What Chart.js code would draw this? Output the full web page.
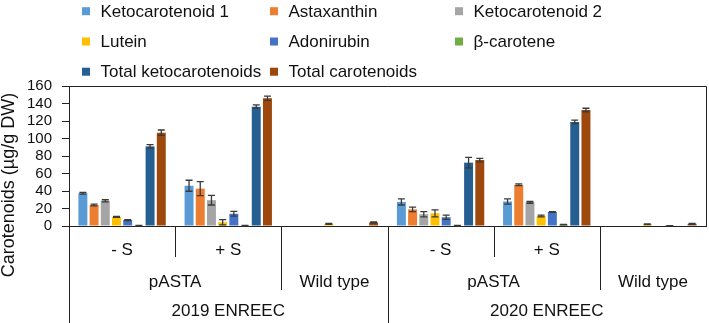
<!DOCTYPE html>
<html><head><meta charset="utf-8">
<script src="https://cdn.jsdelivr.net/npm/chart.js@4.4.1/dist/chart.umd.min.js"></script>
<style>html,body{margin:0;padding:0;background:#fff}#wrap{width:709px;height:323px;position:relative}</style>
</head><body><div id="wrap"><canvas id="c"></canvas></div>
<script>
// ---- data ----
const treatments = ['- S', '+ S', '', '- S', '+ S', ''];
const genotypes = ['pASTA', 'pASTA', 'Wild type', 'pASTA', 'pASTA', 'Wild type'];
const years = ['2019 ENREEC', '2019 ENREEC', '2019 ENREEC', '2020 ENREEC', '2020 ENREEC', '2020 ENREEC'];
const seriesNames = ['Ketocarotenoid 1', 'Astaxanthin', 'Ketocarotenoid 2', 'Lutein', 'Adonirubin', 'β-carotene', 'Total ketocarotenoids', 'Total carotenoids'];
const keto1 = [37.5, 46, 0, 27.5, 28, 0];
const keto1Err = [1, 6.3, 0, 3.5, 3, 0];
const astaxanthin = [24, 42.7, 0, 19, 47.2, 0];
const astaxanthinErr = [1, 8, 0, 2.5, 1, 0];
const keto2 = [28.8, 29.5, 0, 13.5, 27, 0];
const keto2Err = [1.2, 5.5, 0, 3, 1, 0];
const lutein = [10.5, 4.3, 2.5, 14.5, 11.4, 2];
const luteinErr = [0.6, 3, 0.5, 4, 1, 0.5];
const adonirubin = [6.8, 14, 0, 10, 16, 0];
const adonirubinErr = [0.6, 2.8, 0, 2.5, 0.5, 0];
const betaCarotene = [0.5, 0.5, 0, 0.5, 1.5, 0.2];
const betaCaroteneErr = [0.2, 0.2, 0, 0.2, 0.3, 0.1];
const totalKeto = [91, 136.4, 0, 72.4, 118.9, 0];
const totalKetoErr = [2, 2, 0, 6, 2, 0];
const totalCarot = [106.7, 146, 4, 75.4, 132.6, 2.5];
const totalCarotErr = [3, 2.5, 0.6, 2, 2, 0.5];
const yTicks = [0, 20, 40, 60, 80, 100, 120, 140, 160];

// ---- styles ----
const colors = ['#5B9BD5', '#ED7D31', '#A5A5A5', '#FFC000', '#4472C4', '#70AD47', '#255E91', '#9E480E'];
const FONT = '"Liberation Sans", Arial, sans-serif';
const TXT = '#111';
const LINE = '#222';

const values = [keto1, astaxanthin, keto2, lutein, adonirubin, betaCarotene, totalKeto, totalCarot];
const errors = [keto1Err, astaxanthinErr, keto2Err, luteinErr, adonirubinErr, betaCaroteneErr, totalKetoErr, totalCarotErr];
const labels = treatments.map((t, i) => [t, genotypes[i], years[i]]);

const datasets = seriesNames.map((n, i) => ({
  label: n,
  data: values[i],
  errors: errors[i],
  backgroundColor: colors[i],
  borderWidth: 0,
  barPercentage: 0.8,
  categoryPercentage: 0.844
}));

const errorBars = {
  id: 'errorBars',
  afterDatasetsDraw(chart) {
    const ctx = chart.ctx, ys = chart.scales.y;
    ctx.save();
    ctx.strokeStyle = '#3a3a3a';
    ctx.lineWidth = 1.3;
    chart.data.datasets.forEach((ds, i) => {
      const meta = chart.getDatasetMeta(i);
      meta.data.forEach((el, j) => {
        const v = ds.data[j], e = ds.errors[j];
        if (!e) return;
        const x = el.x;
        const y1 = ys.getPixelForValue(v + e), y2 = ys.getPixelForValue(Math.max(0, v - e));
        const hw = 3.5;
        ctx.beginPath();
        ctx.moveTo(x, y1); ctx.lineTo(x, y2);
        ctx.moveTo(x - hw, y1); ctx.lineTo(x + hw, y1);
        ctx.moveTo(x - hw, y2); ctx.lineTo(x + hw, y2);
        ctx.stroke();
      });
    });
    ctx.restore();
  }
};

const decorations = {
  id: 'decorations',
  afterDraw(chart) {
    const ctx = chart.ctx, ca = chart.chartArea, xs = chart.scales.x;
    const H = chart.height;
    ctx.save();
    // frame top & right
    ctx.strokeStyle = LINE; ctx.lineWidth = 1;
    ctx.beginPath();
    ctx.moveTo(Math.round(ca.left) , Math.round(ca.top) + 0.5);
    ctx.lineTo(Math.round(ca.right) + 0.5, Math.round(ca.top) + 0.5);
    ctx.lineTo(Math.round(ca.right) + 0.5, Math.round(ca.bottom));
    ctx.stroke();

    // multi-level category axis
    const n = treatments.length;
    const step = (ca.right - ca.left) / n;
    const edge = k => k === 0 ? ca.left : (xs.getPixelForValue(k - 1) + xs.getPixelForValue(k)) / 2;
    const rowBottom = [ca.bottom + 31, ca.bottom + 64, H];
    ctx.beginPath();
    for (let k = 0; k < n; k++) {
      let depth;
      if (k === 0 || years[k] !== years[k - 1]) depth = 2;
      else if (genotypes[k] !== genotypes[k - 1]) depth = 1;
      else depth = 0;
      const x = Math.round(edge(k)) + 0.5;
      ctx.moveTo(x, ca.bottom); ctx.lineTo(x, rowBottom[depth]);
    }
    ctx.stroke();

    ctx.fillStyle = TXT;
    ctx.textAlign = 'center';
    ctx.textBaseline = 'alphabetic';
    ctx.font = '17px ' + FONT;
    const rows = [treatments, genotypes, years];
    const baselines = [ca.bottom + 28.5, ca.bottom + 60.5, ca.bottom + 90];
    rows.forEach((arr, r) => {
      let s = 0;
      for (let k = 1; k <= n; k++) {
        const brk = k === n || arr[k] !== arr[s] ||
          (r < 2 && years[k] !== years[s]) || (r < 1 && genotypes[k] !== genotypes[s]);
        if (brk) {
          if (arr[s]) {
            const x0 = xs.getPixelForValue(s) - step / 2, x1 = xs.getPixelForValue(k - 1) + step / 2;
            ctx.fillText(arr[s], (x0 + x1) / 2, baselines[r]);
          }
          s = k;
        }
      }
    });

    // y-axis title
    ctx.save();
    ctx.translate(14, 185);
    ctx.rotate(-Math.PI / 2);
    ctx.font = '18px ' + FONT;
    ctx.textAlign = 'center';
    ctx.textBaseline = 'alphabetic';
    ctx.fillText('Carotenoids (µg/g DW)', 0, 0);
    ctx.restore();

    // legend (3 columns)
    const colX = [82, 270, 455];
    const rowBase = [16.7, 47, 77.2];
    ctx.font = '17px ' + FONT;
    ctx.textAlign = 'left';
    chart.data.datasets.forEach((ds, i) => {
      const c = i % 3, r = Math.floor(i / 3);
      ctx.fillStyle = ds.backgroundColor;
      ctx.fillRect(colX[c], rowBase[r] - 9.5, 8, 8);
      ctx.fillStyle = TXT;
      ctx.fillText(ds.label, colX[c] + 18.5, rowBase[r]);
    });
    ctx.restore();
  }
};

new Chart(document.getElementById('c'), {
  type: 'bar',
  data: { labels, datasets },
  options: {
    responsive: true,
    maintainAspectRatio: false,
    animation: false,
    devicePixelRatio: 1,
    layout: { padding: { top: 86, bottom: 97, left: 0, right: 3 } },
    plugins: { legend: { display: false }, tooltip: { enabled: false }, title: { display: false } },
    scales: {
      x: {
        grid: { display: false, drawTicks: false },
        border: { display: true, color: LINE, width: 1 },
        ticks: { display: false }
      },
      y: {
        min: 0, max: 160,
        afterBuildTicks: s => { s.ticks = yTicks.map(v => ({ value: v })); },
        afterFit: s => { s.width = 69; },
        grid: { drawOnChartArea: false, drawTicks: true, tickLength: 7, color: LINE },
        border: { display: true, color: LINE, width: 1 },
        ticks: { color: TXT, font: { family: FONT, size: 15, lineHeight: 1 }, padding: 10, autoSkip: false }
      }
    }
  },
  plugins: [errorBars, decorations]
});
</script>
</body></html>
